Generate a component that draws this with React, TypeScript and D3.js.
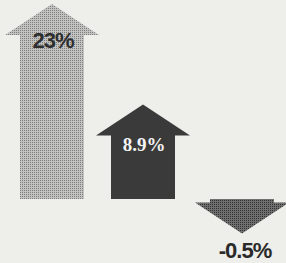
import React from 'react';
import { scaleLinear, line } from 'd3';

const width = 286;
const height = 263;

const labels = ['23%', '8.9%', '-0.5%'];
const values = [23, 8.9, -0.5];
const fills = ['url(#dotLight)', '#3a3a3a', 'url(#dotDark)'];
const textColors = ['#2e2e2e', '#f4f4f4', '#2a2a2a'];
const fonts = [
    '"Liberation Sans Narrow", "Liberation Sans", sans-serif',
    '"Liberation Serif", serif',
    '"Liberation Sans Narrow", "Liberation Sans", sans-serif'
];

const baseY = 199;
const headH = 31;
const shaftHalf = 32;
const headHalf = 47;

export default function App() {
    // arrow centres along the row
    const x = scaleLinear().domain([0, 1, 2]).range([52, 143, 242]);

    // length of the shaft per percent
    const shaft = scaleLinear().domain([0, 23]).range([0, 164]);

    const drawLine = line<[number, number]>();

    const arrows = values.map((v, i) => {
        const cx = x(i);
        const dir = v >= 0 ? -1 : 1;
        const yEnd = baseY + dir * shaft(Math.abs(v));
        const tip = yEnd + dir * headH;
        const pts: [number, number][] = [
            [cx - shaftHalf, baseY],
            [cx - shaftHalf, yEnd],
            [cx - headHalf, yEnd],
            [cx, tip],
            [cx + headHalf, yEnd],
            [cx + shaftHalf, yEnd],
            [cx + shaftHalf, baseY]
        ];
        return { cx, yEnd, tip, d: drawLine(pts) + 'Z' };
    });

    return (
        <svg width={width} height={height}
            style={{ position: 'fixed', left: 0, top: 0, background: '#eeeeeb' }}>
            <defs>
                <pattern id="dotLight" width="2" height="2" patternUnits="userSpaceOnUse">
                    <rect width="2" height="2" fill="#c2c2c0" />
                    <rect width="1" height="1" fill="#7e7e7e" />
                </pattern>
                <pattern id="dotDark" width="2" height="2" patternUnits="userSpaceOnUse">
                    <rect width="2" height="2" fill="#707070" />
                    <rect width="1" height="1" fill="#303030" />
                </pattern>
            </defs>
            <rect width={width} height={height} fill="#eeeeeb" />
            {arrows.map((a, i) => (
                <path key={'a' + i} d={a.d} fill={fills[i]} />
            ))}
            {arrows.map((a, i) => {
                const y = i === 0 ? a.yEnd + 13 : i === 1 ? a.yEnd + 15 : a.tip + 24;
                return (
                    <text key={'t' + i} x={a.cx + (i === 2 ? 3 : 1)} y={y}
                        textAnchor="middle" fill={textColors[i]}
                        fontFamily={fonts[i]} fontWeight="bold"
                        fontSize={i === 1 ? 19 : 22}
                        letterSpacing={i === 1 ? 0 : -1}>
                        {labels[i]}
                    </text>
                );
            })}
        </svg>
    );
}
